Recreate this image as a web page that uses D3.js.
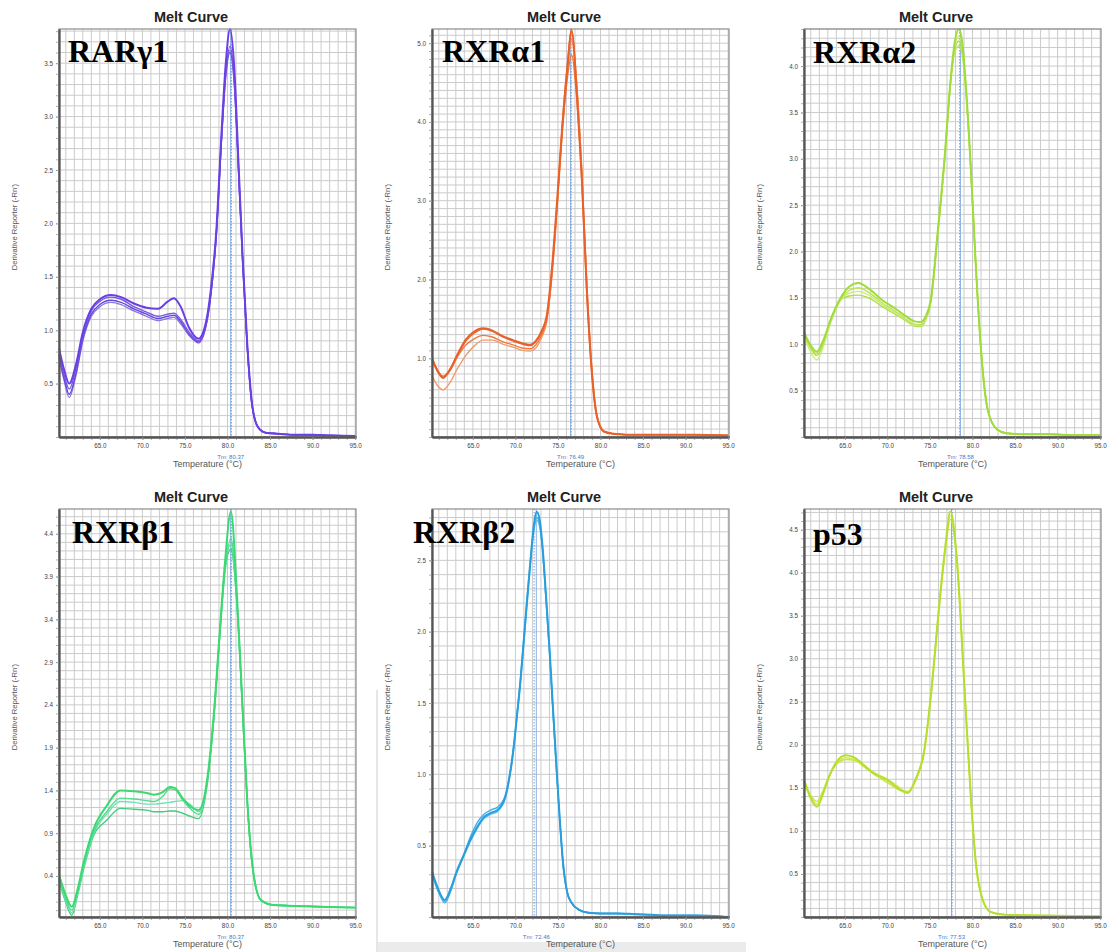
<!DOCTYPE html>
<html>
<head>
<meta charset="utf-8">
<script src="https://cdn.jsdelivr.net/npm/d3@7"></script>
<style>
  body { margin: 0; background: #fff; }
  svg { display: block; }
</style>
</head>
<body>
<svg id="chart" width="1107" height="952"></svg>
<script>
// ---- data ----
const panelNames = ['RARγ1', 'RXRα1', 'RXRα2', 'RXRβ1', 'RXRβ2', 'p53'];
const tmValues = [80.37, 76.49, 78.58, 80.37, 72.46, 77.53];
const tmSecond = [80.45, 76.55, 78.5, 80.45, 72.2, 77.6];
const xTicks = [65, 70, 75, 80, 85, 90, 95];
const xDomain = [60.2, 95.1];
const yDomains = [[0, 3.82], [0, 5.18], [0, 4.40], [-0.08, 4.69], [0, 2.86], [0, 4.74]];
const yTicks = [
  [0.5, 1.0, 1.5, 2.0, 2.5, 3.0, 3.5],
  [1.0, 2.0, 3.0, 4.0, 5.0],
  [0.5, 1.0, 1.5, 2.0, 2.5, 3.0, 3.5, 4.0],
  [0.4, 0.9, 1.4, 1.9, 2.4, 2.9, 3.4, 3.9, 4.4],
  [0.5, 1.0, 1.5, 2.0, 2.5],
  [0.5, 1.0, 1.5, 2.0, 2.5, 3.0, 3.5, 4.0, 4.5]
];

const rarTemp = [60.2, 60.8, 61.4, 62.2, 63.0, 64.0, 65.0, 66.3, 67.5, 69.0, 70.5, 71.8, 73.0, 73.7, 74.5, 75.5, 76.6, 77.4, 78.0, 78.7, 79.3, 79.8, 80.3, 80.8, 81.3, 81.8, 82.3, 82.9, 83.6, 84.5, 86.0, 88.0, 90.0, 92.0, 95.0];
const rarReps = [
  [0.83, 0.63, 0.50, 0.68, 0.98, 1.20, 1.29, 1.33, 1.31, 1.25, 1.21, 1.20, 1.27, 1.30, 1.22, 1.02, 0.92, 1.05, 1.35, 1.95, 2.85, 3.50, 3.82, 3.45, 2.55, 1.65, 0.90, 0.30, 0.09, 0.04, 0.03, 0.02, 0.02, 0.015, 0.01],
  [0.78, 0.58, 0.45, 0.64, 0.95, 1.18, 1.27, 1.31, 1.29, 1.22, 1.17, 1.13, 1.15, 1.16, 1.10, 0.98, 0.90, 1.03, 1.33, 1.92, 2.80, 3.40, 3.66, 3.32, 2.50, 1.62, 0.88, 0.29, 0.09, 0.04, 0.03, 0.02, 0.02, 0.015, 0.01],
  [0.76, 0.55, 0.40, 0.60, 0.92, 1.15, 1.24, 1.28, 1.26, 1.20, 1.15, 1.11, 1.13, 1.14, 1.08, 0.96, 0.89, 1.02, 1.30, 1.90, 2.78, 3.38, 3.60, 3.30, 2.48, 1.60, 0.87, 0.29, 0.09, 0.04, 0.03, 0.02, 0.02, 0.015, 0.01],
  [0.74, 0.53, 0.37, 0.58, 0.90, 1.13, 1.22, 1.26, 1.24, 1.18, 1.13, 1.09, 1.11, 1.12, 1.06, 0.95, 0.88, 1.01, 1.30, 1.92, 2.82, 3.45, 3.62, 3.35, 2.52, 1.63, 0.88, 0.29, 0.09, 0.04, 0.03, 0.02, 0.02, 0.015, 0.01]
];

const rxra1Temp = [60.2, 60.8, 61.5, 62.3, 63.2, 64.2, 65.2, 66.2, 67.3, 68.5, 69.7, 70.8, 71.7, 72.4, 73.1, 73.7, 74.3, 74.9, 75.5, 76.1, 76.6, 77.2, 77.8, 78.4, 79.0, 79.6, 80.4, 81.5, 83.0, 85.0, 88.0, 91.0, 95.0];
const rxra1Reps = [
  [1.00, 0.85, 0.75, 0.85, 1.05, 1.24, 1.34, 1.38, 1.35, 1.28, 1.23, 1.19, 1.17, 1.22, 1.35, 1.55, 2.15, 3.00, 3.93, 4.68, 5.15, 4.40, 3.30, 1.85, 0.80, 0.25, 0.07, 0.04, 0.03, 0.03, 0.03, 0.03, 0.02],
  [0.98, 0.84, 0.77, 0.84, 1.02, 1.17, 1.25, 1.29, 1.27, 1.21, 1.17, 1.13, 1.12, 1.17, 1.30, 1.50, 2.05, 2.90, 3.85, 4.55, 4.85, 4.30, 3.25, 1.80, 0.78, 0.24, 0.07, 0.04, 0.03, 0.03, 0.03, 0.03, 0.02],
  [0.78, 0.66, 0.60, 0.69, 0.87, 1.04, 1.16, 1.23, 1.23, 1.18, 1.14, 1.10, 1.09, 1.13, 1.27, 1.47, 2.10, 2.95, 3.90, 4.60, 5.05, 4.45, 3.35, 1.90, 0.85, 0.27, 0.07, 0.04, 0.03, 0.03, 0.03, 0.03, 0.02],
  [1.00, 0.86, 0.77, 0.86, 1.04, 1.22, 1.32, 1.37, 1.34, 1.27, 1.22, 1.18, 1.16, 1.21, 1.33, 1.52, 2.10, 2.95, 3.95, 4.72, 5.18, 4.50, 3.40, 1.92, 0.83, 0.26, 0.07, 0.04, 0.03, 0.03, 0.03, 0.03, 0.02]
];

const rxra2Temp = [60.2, 60.9, 61.7, 62.5, 63.3, 64.5, 65.5, 66.6, 67.8, 69.5, 71.0, 72.2, 73.1, 73.9, 74.5, 75.1, 75.9, 76.7, 77.4, 77.9, 78.4, 78.8, 79.2, 79.8, 80.4, 81.0, 81.8, 82.9, 84.0, 86.0, 89.0, 92.0, 95.0];
const rxra2Reps = [
  [1.13, 1.00, 0.92, 1.05, 1.26, 1.50, 1.62, 1.66, 1.60, 1.47, 1.38, 1.30, 1.25, 1.24, 1.30, 1.48, 2.20, 2.99, 3.82, 4.25, 4.40, 4.25, 3.82, 2.91, 1.83, 0.94, 0.29, 0.08, 0.04, 0.03, 0.03, 0.02, 0.02],
  [1.12, 0.98, 0.90, 1.03, 1.25, 1.49, 1.58, 1.61, 1.56, 1.44, 1.35, 1.27, 1.22, 1.21, 1.28, 1.46, 2.18, 2.97, 3.80, 4.15, 4.22, 4.12, 3.75, 2.88, 1.82, 0.94, 0.29, 0.08, 0.04, 0.03, 0.03, 0.02, 0.02],
  [1.10, 0.93, 0.83, 0.98, 1.22, 1.47, 1.55, 1.57, 1.53, 1.42, 1.33, 1.26, 1.21, 1.20, 1.27, 1.46, 2.18, 2.98, 3.82, 4.22, 4.32, 4.20, 3.80, 2.90, 1.83, 0.94, 0.29, 0.08, 0.04, 0.03, 0.03, 0.02, 0.02],
  [1.12, 0.97, 0.88, 1.01, 1.24, 1.48, 1.52, 1.53, 1.50, 1.40, 1.32, 1.25, 1.20, 1.19, 1.26, 1.45, 2.17, 2.96, 3.80, 4.18, 4.27, 4.16, 3.78, 2.89, 1.82, 0.94, 0.29, 0.08, 0.04, 0.03, 0.03, 0.02, 0.02]
];

const rxrb1Temp = [60.2, 60.9, 61.7, 62.4, 63.1, 64.3, 65.8, 67.4, 69.0, 70.5, 71.4, 72.4, 73.2, 73.8, 74.8, 75.8, 76.6, 77.6, 78.4, 79.1, 79.7, 80.4, 81.1, 81.7, 82.3, 82.9, 83.9, 85.4, 88.0, 91.0, 95.0];
const rxrb1Reps = [
  [0.41, 0.20, 0.04, 0.25, 0.56, 0.96, 1.22, 1.40, 1.39, 1.37, 1.35, 1.38, 1.44, 1.43, 1.30, 1.20, 1.17, 1.52, 2.30, 3.27, 4.06, 4.66, 3.70, 2.52, 1.32, 0.55, 0.12, 0.06, 0.05, 0.04, 0.03],
  [0.38, 0.16, 0.00, 0.22, 0.53, 0.92, 1.15, 1.31, 1.30, 1.28, 1.27, 1.33, 1.42, 1.41, 1.28, 1.17, 1.12, 1.48, 2.26, 3.22, 3.95, 4.35, 3.60, 2.48, 1.30, 0.54, 0.12, 0.06, 0.05, 0.04, 0.03],
  [0.36, 0.14, -0.03, 0.20, 0.50, 0.90, 1.12, 1.27, 1.26, 1.24, 1.24, 1.25, 1.26, 1.27, 1.28, 1.22, 1.15, 1.50, 2.28, 3.25, 4.00, 4.28, 3.62, 2.50, 1.31, 0.55, 0.12, 0.06, 0.05, 0.04, 0.03],
  [0.35, 0.12, -0.06, 0.18, 0.48, 0.88, 1.05, 1.19, 1.18, 1.17, 1.15, 1.15, 1.16, 1.16, 1.13, 1.09, 1.07, 1.46, 2.25, 3.22, 3.98, 4.22, 3.58, 2.47, 1.30, 0.54, 0.12, 0.06, 0.05, 0.04, 0.03]
];

const rxrb2Temp = [60.2, 60.9, 61.7, 62.4, 63.1, 63.9, 64.7, 65.5, 66.3, 67.1, 67.9, 68.8, 69.3, 69.8, 70.2, 70.6, 71.0, 71.4, 71.8, 72.2, 72.5, 72.8, 73.2, 73.6, 74.0, 74.4, 74.8, 75.2, 75.6, 76.1, 76.6, 77.5, 78.6, 80.0, 82.0, 84.0, 86.0, 88.0, 91.0, 95.0];
const rxrb2Reps = [
  [0.32, 0.20, 0.12, 0.20, 0.32, 0.43, 0.54, 0.63, 0.70, 0.73, 0.75, 0.84, 0.98, 1.19, 1.42, 1.66, 1.95, 2.24, 2.52, 2.76, 2.84, 2.80, 2.59, 2.25, 1.89, 1.48, 1.08, 0.70, 0.38, 0.17, 0.10, 0.05, 0.03, 0.025, 0.025, 0.02, 0.015, 0.01, 0.01, 0.0],
  [0.31, 0.19, 0.10, 0.18, 0.31, 0.43, 0.56, 0.66, 0.72, 0.75, 0.77, 0.85, 0.99, 1.20, 1.43, 1.67, 1.96, 2.25, 2.52, 2.74, 2.80, 2.77, 2.57, 2.23, 1.87, 1.46, 1.06, 0.69, 0.37, 0.17, 0.10, 0.05, 0.03, 0.025, 0.025, 0.02, 0.015, 0.01, 0.01, 0.0],
  [0.30, 0.18, 0.11, 0.19, 0.31, 0.42, 0.53, 0.62, 0.69, 0.72, 0.74, 0.83, 0.97, 1.18, 1.41, 1.64, 1.93, 2.22, 2.50, 2.72, 2.78, 2.75, 2.56, 2.22, 1.86, 1.46, 1.06, 0.69, 0.37, 0.17, 0.10, 0.05, 0.03, 0.025, 0.025, 0.02, 0.015, 0.01, 0.01, 0.0]
];

const p53Temp = [60.2, 60.9, 61.7, 62.4, 63.1, 64.0, 65.1, 66.2, 67.3, 68.4, 69.2, 70.0, 70.8, 71.6, 72.4, 73.3, 74.3, 75.3, 76.0, 76.8, 77.4, 78.2, 79.0, 79.8, 80.4, 81.2, 82.1, 83.5, 86.0, 90.0, 95.0];
const p53Reps = [
  [1.59, 1.40, 1.28, 1.42, 1.62, 1.80, 1.88, 1.85, 1.76, 1.67, 1.63, 1.59, 1.53, 1.47, 1.44, 1.60, 1.92, 2.76, 3.53, 4.30, 4.71, 4.11, 2.76, 1.40, 0.62, 0.20, 0.06, 0.03, 0.02, 0.015, 0.01],
  [1.58, 1.43, 1.34, 1.46, 1.63, 1.77, 1.83, 1.82, 1.74, 1.66, 1.61, 1.56, 1.51, 1.47, 1.46, 1.58, 1.90, 2.74, 3.50, 4.25, 4.62, 4.08, 2.75, 1.40, 0.62, 0.20, 0.06, 0.03, 0.02, 0.015, 0.01],
  [1.60, 1.42, 1.31, 1.44, 1.62, 1.78, 1.85, 1.83, 1.75, 1.68, 1.64, 1.60, 1.55, 1.49, 1.45, 1.58, 1.91, 2.78, 3.55, 4.28, 4.66, 4.14, 2.78, 1.41, 0.62, 0.20, 0.06, 0.03, 0.02, 0.015, 0.01]
];

const temps = [rarTemp, rxra1Temp, rxra2Temp, rxrb1Temp, rxrb2Temp, p53Temp];
const reps = [rarReps, rxra1Reps, rxra2Reps, rxrb1Reps, rxrb2Reps, p53Reps];

// ---- styling / layout ----
const palettes = [
  ['#6a3fe6', '#7d55dc', '#5a4ce2', '#9474dc'],
  ['#e8602a', '#ef7a3c', '#f29a6c', '#ea6e34'],
  ['#9edc3c', '#bde256', '#d2ea74', '#a8e04c'],
  ['#3cd870', '#52dc92', '#6fe2b4', '#40cc78'],
  ['#2a9edc', '#42b0e6', '#5cbfec'],
  ['#b6de2e', '#c6e640', '#d2ec5c']
];
const colLeft = [59, 432, 804];
const rowTop = [29, 509];
const plotW = 297, plotH = 408;
const labelPos = [[9, 33], [10, 33], [9, 34], [13, 34], [-19, 34], [9, 36]];

const svg = d3.select('#chart');
svg.append('rect').attr('width', 1107).attr('height', 952).attr('fill', '#fff');

// scan artefact under the middle bottom panel
svg.append('rect').attr('x', 378).attr('y', 942).attr('width', 368).attr('height', 10).attr('fill', '#ebebeb');
svg.append('line').attr('x1', 377).attr('x2', 377).attr('y1', 690).attr('y2', 952)
  .attr('stroke', '#e6e6e6').attr('stroke-width', 2);

panelNames.forEach((name, i) => {
  const left = colLeft[i % 3], top = rowTop[Math.floor(i / 3)];
  const g = svg.append('g').attr('transform', `translate(${left},${top})`);
  const x = d3.scaleLinear().domain(xDomain).range([0, plotW]);
  const y = d3.scaleLinear().domain(yDomains[i]).range([plotH, 0]);

  // grid: 1 degree vertical, 0.1 horizontal
  const vGrid = d3.range(61, 96);
  const [y0, y1] = yDomains[i];
  const hGrid = d3.range(Math.ceil(y0 * 10 - 1e-6), Math.floor(y1 * 10 + 1e-6) + 1).map(k => k / 10);

  const grid = g.append('g').attr('stroke', '#cbcbcb').attr('stroke-width', 1);
  grid.selectAll('.v').data(vGrid).join('line')
    .attr('x1', d => x(d)).attr('x2', d => x(d)).attr('y1', 0).attr('y2', plotH);
  grid.selectAll('.h').data(hGrid).join('line')
    .attr('x1', 0).attr('x2', plotW).attr('y1', d => y(d)).attr('y2', d => y(d));

  // Tm markers
  g.append('line').attr('x1', x(tmValues[i])).attr('x2', x(tmValues[i]))
    .attr('y1', 0).attr('y2', plotH).attr('stroke', '#8fb4e6').attr('stroke-width', 1);
  g.append('line').attr('x1', x(tmSecond[i])).attr('x2', x(tmSecond[i]))
    .attr('y1', 0).attr('y2', plotH).attr('stroke', '#4f86d0').attr('stroke-width', 0.8)
    .attr('stroke-dasharray', '1.5,1.5');

  // curves
  const line = d3.line().x(d => x(d[0])).y(d => y(d[1])).curve(d3.curveMonotoneX);
  const pal = palettes[i];
  const series = reps[i].map(vals => temps[i].map((t, k) => [t, vals[k]]));
  g.append('g').selectAll('path').data(series.slice().reverse()).join('path')
    .attr('d', line)
    .attr('fill', 'none')
    .attr('stroke', (d, k) => pal[series.length - 1 - k])
    .attr('stroke-width', (d, k) => k === series.length - 1 ? 2 : 1.4)
    .attr('stroke-linejoin', 'round');

  // frame
  g.append('rect').attr('width', plotW).attr('height', plotH)
    .attr('fill', 'none').attr('stroke', '#8c8c8c').attr('stroke-width', 1.2);

  // axes
  const yMinor = g.append('g').call(d3.axisLeft(y).tickValues(hGrid).tickSize(3).tickSizeOuter(0).tickFormat(''));
  const yAxis = g.append('g').call(d3.axisLeft(y).tickValues(yTicks[i]).tickSize(3).tickSizeOuter(0)
    .tickFormat(d3.format('.1f')));
  const xMinor = g.append('g').attr('transform', `translate(0,${plotH})`)
    .call(d3.axisBottom(x).tickValues(vGrid).tickSize(3).tickSizeOuter(0).tickFormat(''));
  const xAxis = g.append('g').attr('transform', `translate(0,${plotH})`)
    .call(d3.axisBottom(x).tickValues(xTicks).tickSize(3).tickSizeOuter(0).tickFormat(d3.format('.1f')));
  [yMinor, yAxis, xMinor, xAxis].forEach(a => {
    a.select('.domain').attr('stroke', '#555').attr('stroke-width', 1.8);
    a.selectAll('.tick line').attr('stroke', '#999').attr('stroke-width', 0.8);
    a.selectAll('text').attr('fill', '#444').style('font-family', 'Liberation Sans, Arial, sans-serif')
      .style('font-size', '6.3px');
  });
  yAxis.selectAll('text').attr('x', -6);
  xAxis.selectAll('text').attr('y', 7);

  // titles and labels
  g.append('text').attr('x', 132).attr('y', -7).attr('text-anchor', 'middle')
    .style('font-family', 'Liberation Sans, Arial, sans-serif').style('font-weight', 'bold')
    .style('font-size', '14.5px').attr('fill', '#222').text('Melt Curve');

  g.append('text').attr('transform', `translate(-42,${plotH / 2 - 6}) rotate(-90)`)
    .attr('text-anchor', 'middle')
    .style('font-family', 'Liberation Sans, Arial, sans-serif').style('font-size', '7.6px')
    .attr('fill', '#555').text("Derivative Reporter (-Rn')");

  g.append('text').attr('x', plotW / 2).attr('y', plotH + 29.5).attr('text-anchor', 'middle')
    .style('font-family', 'Liberation Sans, Arial, sans-serif').style('font-size', '9px')
    .attr('fill', '#555').text('Temperature (°C)');

  g.append('text').attr('x', x(tmValues[i])).attr('y', plotH + 21.5).attr('text-anchor', 'middle')
    .style('font-family', 'Liberation Sans, Arial, sans-serif').style('font-size', '6px')
    .attr('fill', '#3d7cc9').text('Tm: ' + tmValues[i].toFixed(2));

  g.append('text').attr('x', labelPos[i][0]).attr('y', labelPos[i][1])
    .style('font-family', 'Liberation Serif, Times New Roman, serif').style('font-weight', 'bold')
    .style('font-size', '32px').attr('fill', '#000').text(name);
});
</script>
</body>
</html>
